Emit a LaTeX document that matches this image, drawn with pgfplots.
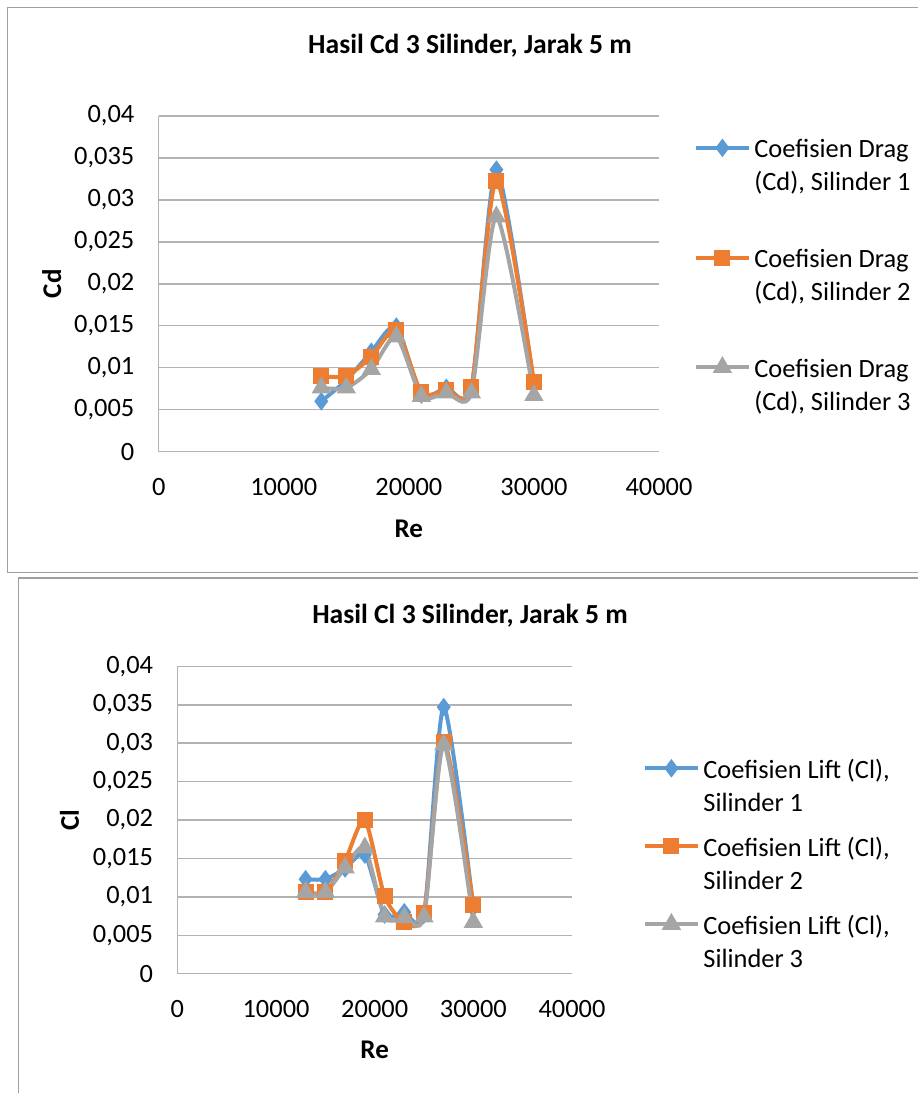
\documentclass[border=0pt]{standalone}
\usepackage{pgfplots}
\pgfplotsset{compat=1.18}
\usepackage{fontspec}
\setmainfont{Carlito}

\definecolor{sblue}{HTML}{5B9BD5}
\definecolor{sorange}{HTML}{ED7D31}
\definecolor{sgray}{HTML}{A5A5A5}
\definecolor{gridc}{HTML}{B3B3B3}
\definecolor{framec}{HTML}{A0A0A0}

\pgfplotsset{
  excel/.style={
    scale only axis,
    anchor=south west,
    xmin=0, xmax=40000, ymin=0, ymax=0.04,
    xtick={0,10000,20000,30000,40000},
    ytick={0,0.005,0.01,0.015,0.02,0.025,0.03,0.035,0.04},
    scaled ticks=false,
    /pgf/number format/assume math mode=true,
    /pgf/number format/.cd, fixed, use comma, 1000 sep={}, precision=3,
    /pgfplots/.cd,
    axis x line=bottom, axis y line=left,
    axis line style={draw=gridc, line width=0.75pt, -},
    ymajorgrids, major grid style={draw=gridc, line width=0.75pt},
    major tick length=0pt,
    tick label style={font=\fontsize{13.2}{16}\selectfont},
    yticklabel style={anchor=east, inner sep=0pt, xshift=-12pt},
    xticklabel style={anchor=center, inner sep=0pt, yshift=-17.8pt},
    label style={font=\bfseries\fontsize{13.5}{16}\selectfont},
    legend cell align=left,
    legend style={draw=none, fill=none, inner sep=0pt,
      font=\fontsize{13.2}{16.5}\selectfont},
    legend image code/.code={
      \draw[mark repeat=2,mark phase=2]
        plot coordinates {(0pt,0pt)(13pt,0pt)(26pt,0pt)};},
    every axis plot/.append style={line width=2pt, smooth, tension=0.42},
  },
  s1/.style={color=sblue, mark=diamond*, mark size=3pt, mark options={solid}},
  s2/.style={color=sorange, mark=square*, mark size=3pt, mark options={solid}},
  s3/.style={color=sgray, mark=triangle*, mark size=3.6pt, mark options={solid}},
}

\newcommand{\two}[2]{\begin{tabular}[t]{@{}l@{}}#1\\#2\end{tabular}}

\begin{document}
\begin{tikzpicture}
\useasboundingbox (0,0) rectangle (459pt,546.5pt);
% chart frames
\draw[framec, line width=0.75pt] (459pt,542.85pt) -- (3.65pt,542.85pt) -- (3.65pt,260.15pt) -- (459pt,260.15pt);
\draw[framec, line width=0.75pt] (459pt,257.5pt) -- (9.35pt,257.5pt) -- (9.35pt,0pt);

\node[font=\bfseries\fontsize{13.8}{16}\selectfont] at (235pt,523.5pt) {Hasil Cd 3 Silinder, Jarak 5 m};
\node[font=\bfseries\fontsize{13.8}{16}\selectfont] at (235pt,238.5pt) {Hasil Cl 3 Silinder, Jarak 5 m};

% Cd
\begin{axis}[excel,
  at={(79.35pt,320.7pt)}, width=250.15pt, height=167.8pt,
  xlabel={Re}, ylabel={Cd},
  xlabel style={at={(axis description cs:0.5,-0.2294)}, anchor=center},
  ylabel style={at={(axis description cs:-0.2139,0.5)}, anchor=center},
  legend style={at={(1.07,0.957)}, anchor=north west, row sep=37.8pt},
]
\addplot[s1] coordinates {(13000,0.0060) (15000,0.0085) (17000,0.0119) (19000,0.0149) (21000,0.0068) (23000,0.0076) (25000,0.0075) (27000,0.0336) (30000,0.0080)};
\addlegendentry{\two{Coefisien Drag}{(Cd), Silinder 1}}
\addplot[s2] coordinates {(13000,0.0090) (15000,0.0090) (17000,0.0113) (19000,0.0145) (21000,0.0071) (23000,0.0073) (25000,0.0077) (27000,0.0323) (30000,0.0083)};
\addlegendentry{\two{Coefisien Drag}{(Cd), Silinder 2}}
\addplot[s3] coordinates {(13000,0.0076) (15000,0.0076) (17000,0.0098) (19000,0.0137) (21000,0.0066) (23000,0.0070) (25000,0.0070) (27000,0.0280) (30000,0.0067)};
\addlegendentry{\two{Coefisien Drag}{(Cd), Silinder 3}}
\end{axis}

% Cl
\begin{axis}[excel,
  at={(88.7pt,59.65pt)}, width=197.3pt, height=153.65pt,
  xlabel={Re}, ylabel={Cl},
  xlabel style={at={(axis description cs:0.5,-0.2467)}, anchor=center},
  ylabel style={at={(axis description cs:-0.2737,0.5)}, anchor=center},
  legend style={at={(1.18,0.725)}, anchor=north west, row sep=21.9pt},
]
\addplot[s1] coordinates {(13000,0.0123) (15000,0.0123) (17000,0.0137) (19000,0.0155) (21000,0.0077) (23000,0.0080) (25000,0.0077) (27000,0.0347) (30000,0.0086)};
\addlegendentry{\two{Coefisien Lift (Cl),}{Silinder 1}}
\addplot[s2] coordinates {(13000,0.0106) (15000,0.0106) (17000,0.0147) (19000,0.0200) (21000,0.0101) (23000,0.0067) (25000,0.0079) (27000,0.0302) (30000,0.0089)};
\addlegendentry{\two{Coefisien Lift (Cl),}{Silinder 2}}
\addplot[s3] coordinates {(13000,0.0106) (15000,0.0106) (17000,0.0138) (19000,0.0164) (21000,0.0074) (23000,0.0073) (25000,0.0074) (27000,0.0298) (30000,0.0067)};
\addlegendentry{\two{Coefisien Lift (Cl),}{Silinder 3}}
\end{axis}
\end{tikzpicture}
\end{document}
